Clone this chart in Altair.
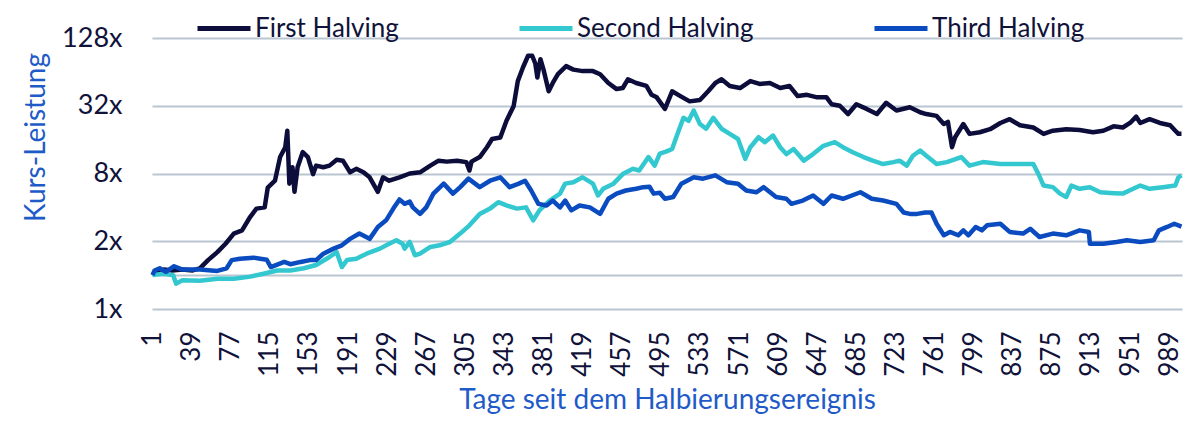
import altair as alt
import pandas as pd

# ---- data (day since halving, price multiple) ----
first_days = [1, 5, 12, 20, 30, 40, 47, 55, 64, 72, 80, 88, 96, 102, 110, 113, 120, 125, 130, 132,
              134, 137, 139, 142, 147, 152, 157, 160, 167, 173, 180, 186, 193, 199, 206, 212, 220,
              225, 231, 241, 251, 261, 271, 279, 287, 297, 306, 309, 311, 319, 326, 331, 339, 345,
              352, 356, 361, 366, 370, 373, 375, 378, 381, 386, 390, 395, 403, 410, 419, 429, 436,
              444, 452, 458, 463, 471, 481, 486, 491, 499, 506, 514, 523, 533, 541, 548, 554, 562,
              572, 582, 591, 601, 611, 620, 628, 637, 647, 656, 661, 669, 677, 685, 695, 705, 714,
              724, 737, 747, 753, 763, 770, 774, 778, 781, 789, 795, 805, 815, 825, 834, 844, 857,
              867, 876, 889, 902, 915, 925, 935, 944, 951, 957, 961, 970, 980, 990, 995, 998, 1001]
first_vals = [1.0, 1.08, 1.12, 1.1, 1.12, 1.1, 1.15, 1.36, 1.6, 1.9, 2.34, 2.5, 3.3, 3.9, 4.0, 6.0,
              6.9, 11.2, 13.7, 19.2, 6.5, 9.1, 5.5, 9.1, 12.4, 11.2, 7.9, 9.4, 9.1, 9.4, 10.6, 10.4,
              8.2, 8.8, 8.2, 7.4, 5.5, 7.4, 6.9, 7.4, 8.0, 8.2, 9.4, 10.4, 10.2, 10.4, 10.1, 8.5,
              10.2, 11.2, 13.7, 16.2, 16.7, 23.5, 31.9, 53, 70, 89, 89, 76, 57, 83, 67, 43, 51, 61,
              72, 67, 65, 65, 61, 51, 45, 46, 55, 51, 48, 40, 38, 30, 43, 39, 35, 36, 43, 51, 55, 48,
              46, 53, 50, 51, 46, 48, 39, 40, 38, 38, 33, 32, 27, 33, 30, 27, 34, 29, 31, 28, 27, 26,
              22, 23, 13.7, 16.8, 22, 18, 18.6, 19.8, 22.5, 24.3, 21.5, 20.5, 18, 19.2, 19.8, 19.5,
              18.6, 19.2, 21, 20.5, 22.5, 25.6, 22.5, 24.3, 22.5, 21.5, 19.2, 18, 18]

second_days = [1, 11, 21, 24, 30, 47, 64, 80, 96, 109, 122, 135, 148, 160, 173, 180, 185, 190, 199,
               209, 222, 231, 238, 244, 246, 251, 256, 261, 271, 280, 290, 300, 309, 319, 329, 337,
               345, 355, 364, 371, 377, 387, 397, 402, 410, 419, 429, 434, 439, 449, 458, 468, 474,
               483, 489, 494, 500, 506, 510, 517, 522, 527, 533, 539, 546, 554, 562, 570, 577, 582,
               590, 596, 604, 611, 617, 624, 634, 643, 653, 664, 672, 682, 692, 701, 711, 721, 727,
               734, 740, 747, 753, 763, 773, 787, 795, 808, 825, 841, 857, 862, 867, 876, 883, 889,
               894, 902, 912, 922, 935, 944, 954, 961, 970, 983, 995, 998, 1001]
second_vals = [1.0, 1.03, 1.0, 0.84, 0.9, 0.89, 0.93, 0.93, 0.97, 1.03, 1.1, 1.1, 1.15, 1.23, 1.45,
               1.6, 1.18, 1.36, 1.4, 1.55, 1.72, 1.9, 2.04, 1.9, 1.72, 1.97, 1.5, 1.55, 1.78, 1.84,
               1.97, 2.34, 2.77, 3.5, 3.9, 4.45, 4.16, 3.9, 4.0, 3.07, 3.76, 4.6, 5.3, 6.5, 6.7, 7.4,
               6.5, 5.1, 5.85, 6.5, 7.9, 8.8, 8.5, 11.2, 9.4, 12, 12.5, 13.2, 16.8, 25, 23.5, 29, 22,
               20, 25, 20, 18, 16.2, 10.8, 13.7, 16.8, 15.2, 17.4, 13.7, 11.9, 13.2, 10.4, 11.9, 14.1,
               15.2, 13.7, 12.3, 11.2, 10.4, 9.7, 10.1, 10.4, 9.4, 11.5, 12.8, 11.5, 9.7, 10.1, 11.2,
               9.4, 10.1, 9.7, 9.7, 9.7, 7.9, 6.25, 6.05, 5.3, 4.95, 6.25, 5.85, 6.05, 5.45, 5.35,
               5.3, 5.85, 6.25, 5.85, 6.05, 6.25, 7.4, 7.7]

third_days = [1, 3, 8, 14, 22, 30, 47, 64, 73, 78, 86, 99, 112, 116, 129, 135, 145, 154, 160, 167,
              177, 185, 193, 202, 212, 220, 228, 235, 241, 246, 251, 254, 261, 267, 274, 284, 293,
              300, 308, 319, 329, 339, 348, 357, 363, 369, 376, 384, 390, 397, 402, 408, 416, 426,
              436, 444, 452, 461, 471, 478, 484, 488, 494, 499, 507, 515, 527, 536, 548, 559, 570,
              578, 588, 595, 607, 617, 622, 633, 643, 653, 661, 672, 689, 700, 711, 724, 731, 737,
              744, 752, 758, 763, 770, 776, 784, 789, 794, 801, 807, 812, 825, 834, 847, 854, 863,
              876, 889, 902, 911, 912, 925, 938, 948, 961, 974, 979, 987, 994, 1001]
third_vals = [1.0, 1.1, 1.15, 1.07, 1.2, 1.12, 1.12, 1.09, 1.15, 1.36, 1.4, 1.43, 1.37, 1.18, 1.31,
              1.25, 1.31, 1.36, 1.36, 1.55, 1.72, 1.84, 2.1, 2.34, 2.1, 2.68, 3.07, 3.9, 4.7, 4.3,
              4.5, 4.0, 3.5, 4.0, 5.3, 6.5, 5.3, 6.05, 7.2, 6.05, 6.9, 7.4, 6.05, 6.5, 6.9, 5.65,
              4.3, 4.16, 4.6, 4.0, 4.6, 3.76, 4.16, 4.0, 3.5, 4.77, 5.3, 5.65, 5.85, 6.05, 6.1, 5.3,
              5.4, 4.77, 4.95, 6.5, 7.4, 7.2, 7.7, 6.7, 6.5, 5.65, 5.45, 6.05, 4.95, 4.77, 4.3, 4.6,
              5.1, 4.3, 5.1, 4.77, 5.45, 4.77, 4.6, 4.3, 3.6, 3.5, 3.5, 3.6, 3.6, 2.86, 2.26, 2.42,
              2.26, 2.5, 2.26, 2.68, 2.5, 2.77, 2.86, 2.42, 2.34, 2.58, 2.18, 2.34, 2.26, 2.5, 2.42,
              1.9, 1.9, 1.97, 2.04, 1.97, 2.04, 2.5, 2.68, 2.86, 2.7]

series_names = ["First Halving", "Second Halving", "Third Halving"]
series_colors = ["#0d0d3b", "#33c8d0", "#0a4bbf"]

x_tick_values = [1, 39, 77, 115, 153, 191, 229, 267, 305, 343, 381, 419, 457, 495, 533, 571,
                 609, 647, 685, 723, 761, 799, 837, 875, 913, 951, 989]
y_tick_values = [0.5, 1, 2, 8, 32, 128]
y_tick_labels = ["1x", "", "2x", "8x", "32x", "128x"]

x_title = "Tage seit dem Halbierungsereignis"
y_title = "Kurs-Leistung"

# ---- build long table ----
rows = []
for name, days, vals in zip(series_names, [first_days, second_days, third_days],
                            [first_vals, second_vals, third_vals]):
    for d, v in zip(days, vals):
        rows.append({"Tag": d, "Wert": v, "Serie": name})
df = pd.DataFrame(rows)

label_expr = "''"
for v, lab in zip(y_tick_values, y_tick_labels):
    label_expr = f"datum.value == {v} ? '{lab}' : ({label_expr})"

FONT = "Lato"
DARK = "#10123a"
BLUE = "#1f5bc8"

chart = alt.Chart(df).mark_line(strokeWidth=4.5, strokeJoin="round").encode(
    x=alt.X("Tag:Q",
            scale=alt.Scale(domain=[0.5, 1001.5], nice=False, zero=False),
            axis=alt.Axis(values=x_tick_values, labelAngle=270, title=x_title,
                          grid=False, domain=False, ticks=False, labelPadding=22,
                          labelFontSize=26, labelColor=DARK, labelFont=FONT,
                          titleFont=FONT, titleFontSize=28, titleColor=BLUE,
                          titleFontWeight="normal", titleBaseline="alphabetic", titleY=99,
                          titleAlign="center", titleX=515,
                          labelOverlap=False)),
    y=alt.Y("Wert:Q",
            scale=alt.Scale(type="log", base=2, domain=[0.5, 128], nice=False),
            axis=alt.Axis(values=y_tick_values, labelExpr=label_expr, title=y_title,
                          grid=True, gridColor="#b9c5d1", gridWidth=1.8,
                          domain=False, ticks=False, labelPadding=30,
                          labelFontSize=27, labelColor=DARK, labelFont=FONT,
                          titleFont=FONT, titleFontSize=28, titleColor=BLUE,
                          titleFontWeight="normal", titleBaseline="alphabetic",
                          titleAlign="center",
                          titleX=-108, titleY=99, titleAngle=270)),
    color=alt.Color("Serie:N",
                    scale=alt.Scale(domain=series_names, range=series_colors),
                    legend=alt.Legend(title=None, orient="none", legendX=43, legendY=-38.5,
                                      direction="horizontal", symbolType="stroke",
                                      symbolStrokeWidth=5, symbolSize=2809,
                                      labelFontSize=26, labelFont=FONT, labelColor=DARK,
                                      labelOffset=2, columnPadding=110, padding=0,
                                      labelLimit=400)),
).properties(
    width=1030, height=271,
    autosize=alt.AutoSizeParams(type="none"),
    padding={"left": 144, "top": 30, "right": 10, "bottom": 116},
).configure_view(stroke=None)

chart.save("out.html", embed_options={"renderer": "svg", "actions": False})
